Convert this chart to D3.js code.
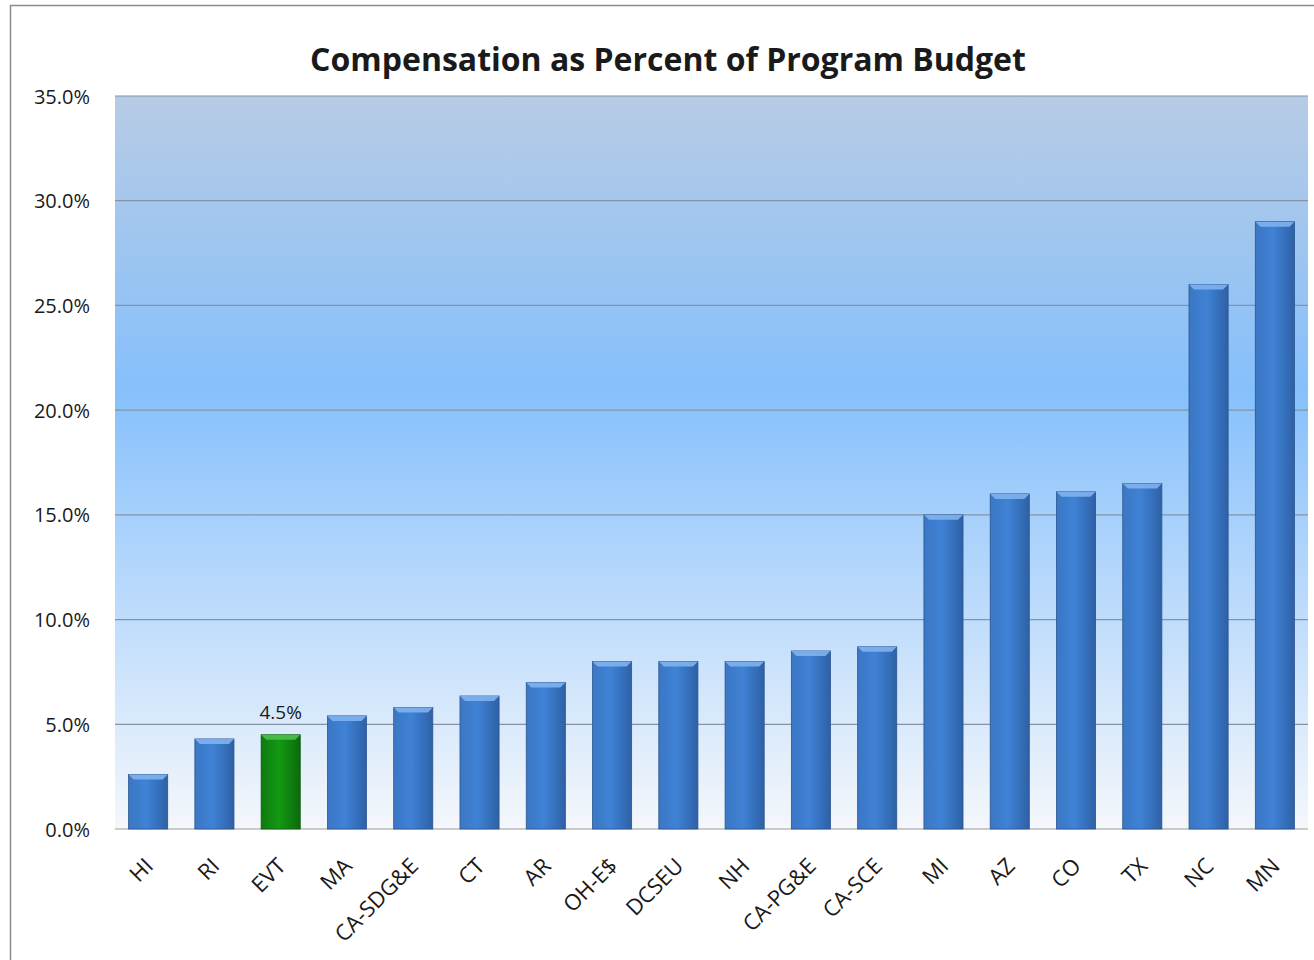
<!DOCTYPE html>
<html>
<head>
  <meta charset="utf-8">
  <script src="https://d3js.org/d3.v7.min.js"></script>
  <style>
    body { margin: 0; background: #fff; }
    text { font-family: "Open Sans", "Liberation Sans", sans-serif; fill: #1a1a1a; }
  </style>
</head>
<body>
<script>
// chart data
var categories = ["HI", "RI", "EVT", "MA", "CA-SDG&E", "CT", "AR", "OH-E$", "DCSEU", "NH",
                  "CA-PG&E", "CA-SCE", "MI", "AZ", "CO", "TX", "NC", "MN"];
var values = [2.6, 4.3, 4.5, 5.4, 5.8, 6.35, 7.0, 8.0, 8.0, 8.0, 8.5, 8.7, 15.0, 16.0, 16.1, 16.5, 26.0, 29.0];
var highlight = "EVT";
var yTicks = [0, 5, 10, 15, 20, 25, 30, 35];

var W = 1314, H = 960;
var plotLeft = 115, plotRight = 1308, plotTop = 96, plotBottom = 829;

var svg = d3.select("body").append("svg").attr("width", W).attr("height", H);
var defs = svg.append("defs");

// plot background gradient
var bg = defs.append("linearGradient").attr("id", "bg").attr("x1", 0).attr("y1", 0).attr("x2", 0).attr("y2", 1);
bg.append("stop").attr("offset", "0%").attr("stop-color", "#b7cbe5");
bg.append("stop").attr("offset", "40%").attr("stop-color", "#86c0fb");
bg.append("stop").attr("offset", "100%").attr("stop-color", "#f4f7fb");

function barGrad(id, c1, c2, c3) {
  var g = defs.append("linearGradient").attr("id", id).attr("x1", 0).attr("y1", 0).attr("x2", 1).attr("y2", 0);
  g.append("stop").attr("offset", "0%").attr("stop-color", c1);
  g.append("stop").attr("offset", "45%").attr("stop-color", c2);
  g.append("stop").attr("offset", "100%").attr("stop-color", c3);
}
barGrad("blue", "#3b77c4", "#3f82d6", "#2e61a6");
barGrad("green", "#0f7a0f", "#139a13", "#0c6a0c");

// outer frame
svg.append("rect").attr("x", 10.5).attr("y", 5.5).attr("width", W).attr("height", H)
  .attr("fill", "none").attr("stroke", "#8c8c8c").attr("stroke-width", 1.5);

var x = d3.scaleBand().domain(categories).range([plotLeft, plotRight]).paddingInner(0.41).paddingOuter(0.205);
var y = d3.scaleLinear().domain([0, 35]).range([plotBottom, plotTop]);

svg.append("rect").attr("x", plotLeft).attr("y", plotTop)
  .attr("width", plotRight - plotLeft).attr("height", plotBottom - plotTop)
  .attr("fill", "url(#bg)");

// gridlines
svg.append("g").selectAll("line").data(yTicks).join("line")
  .attr("x1", plotLeft).attr("x2", plotRight)
  .attr("y1", function(d) { return y(d); }).attr("y2", function(d) { return y(d); })
  .attr("stroke", function(d) { return d === 0 ? "#9a9a9a" : "#8494a6"; })
  .attr("stroke-width", 1.2);

// y axis labels
var yAxis = d3.axisLeft(y).tickValues(yTicks).tickSize(0).tickPadding(0)
  .tickFormat(function(d) { return d.toFixed(1) + "%"; });
var ya = svg.append("g").attr("transform", "translate(90,0)").call(yAxis);
ya.select(".domain").remove();
ya.selectAll("text").style("font-size", "20px").attr("dy", "0.35em");

// bars
var bars = svg.append("g").selectAll("g").data(categories).join("g");
bars.append("rect")
  .attr("x", function(d) { return x(d); })
  .attr("y", function(d, i) { return y(values[i]); })
  .attr("width", x.bandwidth())
  .attr("height", function(d, i) { return plotBottom - y(values[i]); })
  .attr("fill", function(d) { return d === highlight ? "url(#green)" : "url(#blue)"; })
  .attr("stroke", function(d) { return d === highlight ? "#0b5a0b" : "#2a5590"; })
  .attr("stroke-width", 0.8);
// bevel highlight on top
bars.append("path")
  .attr("d", function(d, i) {
    var x0 = x(d), x1 = x0 + x.bandwidth(), yt = y(values[i]);
    return "M" + x0 + "," + yt + "L" + x1 + "," + yt + "L" + (x1 - 5) + "," + (yt + 5) + "L" + (x0 + 5) + "," + (yt + 5) + "Z";
  })
  .attr("fill", function(d) { return d === highlight ? "#4cc04c" : "#7fb3ee"; })
  .attr("opacity", 0.9);

// value label on highlighted bar
var hi = categories.indexOf(highlight);
svg.append("text")
  .attr("x", x(highlight) + x.bandwidth() / 2)
  .attr("y", y(values[hi]) - 16)
  .attr("text-anchor", "middle")
  .style("font-size", "19px")
  .text(values[hi].toFixed(1) + "%");

// x axis labels
var xAxis = d3.axisBottom(x).tickSize(0).tickPadding(0);
var xa = svg.append("g").attr("transform", "translate(0," + plotBottom + ")").call(xAxis);
xa.select(".domain").remove();
xa.selectAll("text")
  .style("font-size", "22px")
  .attr("text-anchor", "end")
  .attr("dy", "0.35em")
  .attr("transform", "translate(1,33) rotate(-45)");

// title
svg.append("text")
  .attr("x", 668).attr("y", 71)
  .attr("text-anchor", "middle")
  .style("font-size", "32px").style("font-weight", "bold")
  .text("Compensation as Percent of Program Budget");
</script>
</body>
</html>
